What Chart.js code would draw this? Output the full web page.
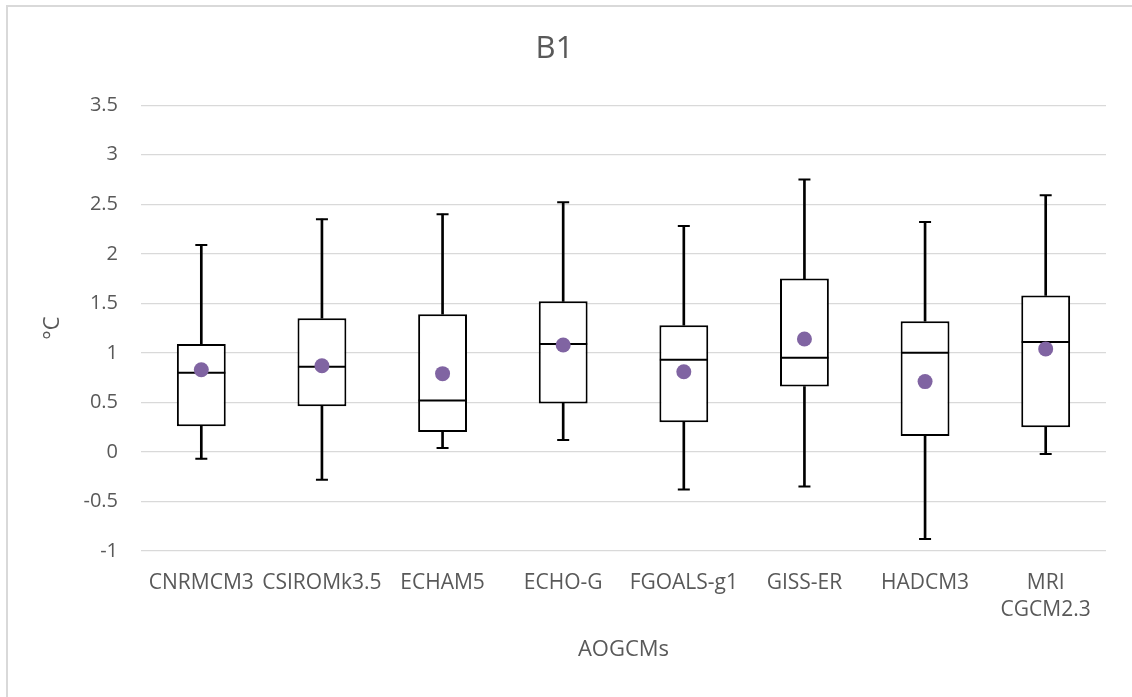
<!DOCTYPE html>
<html>
<head>
<meta charset="utf-8">
<script src="https://cdn.jsdelivr.net/npm/chart.js@4/dist/chart.umd.min.js"></script>
<style>
  html, body { margin: 0; padding: 0; background: #fff; overflow: hidden; }
  #frame { position: absolute; left: 6px; top: 5px; width: 2000px; height: 2000px; border: 2px solid #d9d9d9; }
  #wrap { position: absolute; left: 0; top: 0; width: 1132px; height: 697px; }
</style>
</head>
<body>
<div id="frame"></div>
<div id="wrap"><canvas id="myChart" width="1132" height="697"></canvas></div>
<script>
const models = ['CNRMCM3', 'CSIROMk3.5', 'ECHAM5', 'ECHO-G', 'FGOALS-g1', 'GISS-ER', 'HADCM3', ['MRI', 'CGCM2.3']];
const minVals = [-0.07, -0.28, 0.04, 0.12, -0.38, -0.35, -0.88, -0.02];
const q1Vals = [0.26, 0.46, 0.20, 0.49, 0.30, 0.66, 0.16, 0.25];
const medianVals = [0.80, 0.86, 0.52, 1.09, 0.93, 0.95, 1.00, 1.11];
const q3Vals = [1.09, 1.35, 1.39, 1.52, 1.28, 1.75, 1.32, 1.58];
const maxVals = [2.09, 2.35, 2.40, 2.52, 2.28, 2.75, 2.32, 2.59];
const meanVals = [0.83, 0.87, 0.79, 1.08, 0.81, 1.14, 0.71, 1.04];

const textColor = '#595959';
const fontFamily = "'Open Sans', sans-serif";

function pairs(a, b) {
	return a.map((v, i) => [v, b[i]]);
}

const whiskerStyle = {
	type: 'bar',
	backgroundColor: '#000000',
	borderWidth: 0,
	barThickness: 2,
	grouped: false,
	order: 3
};
// short horizontal marks (whisker ends, median)
function tick(label, data, halfWidth) {
	return {
		type: 'line',
		label: label,
		data: data,
		showLine: false,
		pointStyle: 'line',
		pointRadius: halfWidth,
		pointBorderWidth: 2,
		pointBorderColor: '#000000',
		order: 1
	};
}

let ctx = document.getElementById('myChart').getContext('2d');
let myChart = new Chart(ctx, {
	type: 'bar',
	data: {
		labels: models,
		datasets: [
			Object.assign({ label: 'lower whisker', data: pairs(minVals, q1Vals) }, whiskerStyle),
			Object.assign({ label: 'upper whisker', data: pairs(q3Vals, maxVals) }, whiskerStyle),
			{
				type: 'bar',
				label: 'box',
				data: pairs(q1Vals, q3Vals),
				backgroundColor: '#ffffff',
				borderColor: '#000000',
				borderWidth: 2,
				borderSkipped: false,
				barPercentage: 0.405,
				categoryPercentage: 1,
				grouped: false,
				order: 2
			},
			tick('median', medianVals, 24),
			tick('min', minVals, 6),
			tick('max', maxVals, 6),
			{
				type: 'line',
				label: 'mean',
				data: meanVals,
				showLine: false,
				pointStyle: 'circle',
				pointRadius: 7.5,
				pointBorderWidth: 0,
				pointBackgroundColor: '#8064A2',
				order: 0
			}
		]
	},
	options: {
		responsive: false,
		animation: false,
		layout: {
			padding: { left: 0, right: 23, top: 0, bottom: 0 }
		},
		plugins: {
			legend: { display: false },
			tooltip: { enabled: false },
			title: {
				display: true,
				text: 'B1',
				color: textColor,
				font: { family: fontFamily, size: 31, weight: 'normal', lineHeight: 1.2 },
				padding: { top: 31, bottom: 37 }
			}
		},
		scales: {
			x: {
				offset: true,
				grid: { display: false, drawTicks: false },
				border: { display: false },
				ticks: {
					color: textColor,
					font: { family: fontFamily, size: 21, lineHeight: 1.3 },
					padding: 18,
					autoSkip: false,
					maxRotation: 0,
					minRotation: 0
				},
				title: {
					display: true,
					text: 'AOGCMs',
					color: textColor,
					font: { family: fontFamily, size: 22, lineHeight: 1.2 },
					padding: { top: 0, bottom: 34 }
				},
				afterFit: function(scale) {
					scale.height = 697 - 551;
				}
			},
			y: {
				min: -1,
				max: 3.5,
				grid: { color: '#d9d9d9', lineWidth: 1.3, drawTicks: false },
				border: { display: false },
				ticks: {
					stepSize: 0.5,
					color: textColor,
					font: { family: fontFamily, size: 20 },
					padding: 23,
					callback: function(value) {
						return String(Math.round(value * 10) / 10);
					}
				},
				title: {
					display: true,
					text: '°C',
					color: textColor,
					font: { family: fontFamily, size: 22, lineHeight: 1.2 },
					padding: { top: 40, bottom: 0 }
				},
				afterFit: function(scale) {
					scale.width = 141;
				}
			}
		}
	}
});
</script>
</body>
</html>
